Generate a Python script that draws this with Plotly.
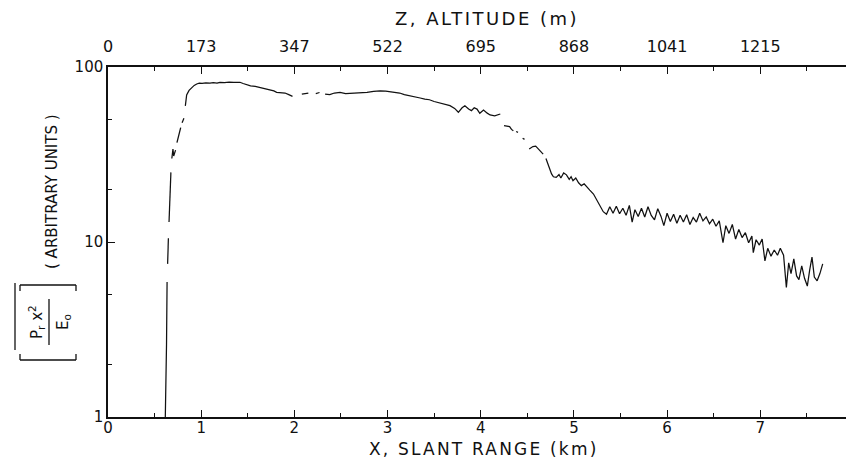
import plotly.graph_objects as go

# Lidar return profile: range-corrected signal vs. slant range
slant_km = [
    0.615, 0.622, 0.628, 0.634, None, 0.640, 0.648, None, 0.655, 0.665, 0.675, None,
    0.685, 0.697, 0.705, 0.715, 0.725, None, 0.740, 0.760, 0.780, None, 0.795, 0.815, None,
    0.830, 0.844, 0.870, 0.898, 0.925, 0.952, 0.980, 1.010, 1.050, 1.094, 1.130, 1.170,
    1.202, 1.250, 1.300, 1.350, 1.416, 1.450, 1.488, 1.530, 1.580, 1.631, 1.680, 1.738,
    1.780, 1.810, 1.850, 1.900, 1.940, 1.980, None, 2.080, 2.150, None, 2.230, 2.270, None,
    2.330, 2.380, 2.430, 2.490, 2.550, 2.630, 2.700, 2.780, 2.850, 2.920, 2.980, 3.030,
    3.080, 3.130, 3.180, 3.240, 3.300, 3.350, 3.400, 3.450, 3.500, 3.560, 3.620, 3.670,
    3.720, 3.760, 3.800, 3.830, 3.870, 3.900, 3.930, 3.960, 3.990, 4.030, 4.070, 4.100,
    4.150, 4.210, None, 4.250, 4.310, 4.330, 4.350, None, 4.380, 4.400, None, 4.450, 4.470,
    None, 4.520, 4.560, 4.590, 4.620, 4.670, None, 4.700, 4.730, 4.760, 4.780, 4.810,
    4.840, 4.860, 4.890, 4.920, 4.950, 4.970, 4.990, 5.020, 5.050, 5.080, 5.110, 5.140,
    5.170, 5.210, 5.240, 5.280, 5.315, 5.350, 5.385, 5.420, 5.455, 5.490, 5.525, 5.560,
    5.595, 5.625, 5.655, 5.690, 5.725, 5.760, 5.795, 5.830, 5.865, 5.900, 5.935, 5.965,
    6.000, 6.035, 6.070, 6.105, 6.140, 6.175, 6.210, 6.245, 6.280, 6.315, 6.350, 6.385,
    6.420, 6.455, 6.490, 6.525, 6.560, 6.600, 6.630, 6.665, 6.700, 6.735, 6.770, 6.805,
    6.840, 6.875, 6.910, 6.925, 6.955, 6.990, 7.020, 7.050, 7.080, 7.115, 7.150, 7.185,
    7.215, 7.250, 7.280, 7.305, 7.330, 7.360, 7.390, 7.415, 7.445, 7.475, 7.505, 7.530,
    7.555, 7.580, 7.610, 7.640, 7.670,
]
signal = [
    1.0, 1.5, 2.6, 5.9, None, 7.5, 10.5, None, 13.0, 18.0, 25.0, None,
    30.0, 34.0, 31.0, 32.5, 33.5, None, 37.0, 41.0, 45.0, None, 48.0, 51.0, None,
    60.0, 69.2, 73.5, 76.5, 78.5, 80.0, 80.8, 80.5, 81.2, 81.0, 81.5, 81.0,
    81.8, 81.5, 82.0, 81.6, 81.8, 80.5, 79.2, 78.0, 77.5, 76.5, 75.0, 74.2,
    73.0, 71.7, 71.5, 71.0, 69.5, 68.0, None, 70.0, 71.0, None, 70.5, 71.5, None,
    70.0, 69.5, 71.0, 71.7, 70.5, 70.8, 71.5, 71.7, 72.5, 73.0, 72.7, 72.3,
    71.5, 71.0, 69.5, 68.6, 67.5, 66.5, 65.5, 65.0, 63.5, 62.2, 61.0, 60.1,
    58.0, 55.1, 58.5, 60.1, 57.5, 56.3, 58.5, 57.5, 54.4, 56.8, 54.5, 53.2,
    52.6, 53.9, None, 46.2, 45.6, 44.0, 43.2, None, 42.8, 42.3, None, 39.2, 38.6,
    None, 34.0, 35.1, 35.3, 34.0, 31.8, None, 30.0, 27.0, 24.5, 23.6, 23.4,
    24.3, 23.2, 24.8, 24.2, 22.8, 23.6, 22.4, 23.2, 21.8, 21.0, 21.5, 20.5,
    19.8, 18.8, 17.5, 16.1, 14.9, 14.4, 15.9, 14.6, 16.0, 14.5, 15.6, 14.2,
    16.2, 13.0, 15.3, 14.0, 15.6, 13.9, 15.9, 14.2, 13.4, 15.5, 14.0, 12.4,
    14.6, 13.1, 14.4, 12.8, 14.2, 13.0, 14.3, 12.6, 13.8, 13.0, 14.6, 13.2,
    13.9, 12.7, 13.5, 12.3, 13.2, 9.9, 12.4, 11.2, 12.6, 10.4, 11.8, 10.6,
    11.3, 9.9, 10.8, 8.7, 10.3, 9.6, 10.4, 7.8, 9.2, 8.3, 9.0, 8.4,
    9.2, 8.4, 5.5, 7.6, 6.6, 8.0, 6.4, 6.1, 7.3, 6.2, 5.6, 6.9,
    8.2, 6.3, 6.0, 6.6, 7.5,
]

range_ticks = [0, 1, 2, 3, 4, 5, 6, 7]
range_tick_labels = ["0", "1", "2", "3", "4", "5", "6", "7"]
altitude_tick_labels = ["0", "173", "347", "522", "695", "868", "1041", "1215"]
half_km_ticks = [0.5, 1.5, 2.5, 3.5, 4.5, 5.5, 6.5, 7.5]
y_ticks = [1, 10, 100]
y_tick_labels = ["1", "10", "100"]
y_minor_ticks = [2, 5, 20, 50]

W, H = 846, 458
ML, MR, MT, MB = 108, 0, 67, 41
PW, PH = W - ML - MR, H - MT - MB
FONT = "DejaVu Sans"
INK = "#111111"


def fx(px):
    return (px - ML) / PW


def fy(py):
    return (MT + PH - py) / PH


def spaced(text, px):
    return f'<span style="letter-spacing:{px}px">{text}</span>'


fig = go.Figure()
fig.add_trace(go.Scatter(
    x=slant_km, y=signal, mode="lines", connectgaps=False,
    line=dict(color=INK, width=1.25), showlegend=False, hoverinfo="skip",
))
# empty trace so the altitude axis along the top is drawn
fig.add_trace(go.Scatter(x=[None], y=[None], xaxis="x2", yaxis="y",
                         mode="lines", showlegend=False, hoverinfo="skip"))

axis_common = dict(
    range=[0, 7.92], showline=True, linecolor=INK, linewidth=1.5,
    ticks="inside", ticklen=7, tickwidth=1.3, tickcolor=INK,
    tickvals=range_ticks, showgrid=False, zeroline=False,
    minor=dict(tickvals=half_km_ticks, ticks="inside", ticklen=4,
               tickwidth=1, tickcolor=INK, showgrid=False),
)

fig.update_layout(
    width=W, height=H, autosize=False,
    margin=dict(l=ML, r=MR, t=MT, b=MB, pad=0),
    paper_bgcolor="white", plot_bgcolor="white",
    font=dict(family=FONT, color=INK),
    xaxis=dict(**axis_common, ticktext=range_tick_labels, side="bottom",
               ticklabelstandoff=-4,
               tickfont=dict(family=FONT, size=15, color=INK)),
    xaxis2=dict(**axis_common, ticktext=altitude_tick_labels, side="top",
                overlaying="x", anchor="y", matches="x", ticklabelstandoff=7,
                tickfont=dict(family=FONT, size=16, color=INK)),
    yaxis=dict(
        type="log", range=[0, 2], showline=True, linecolor=INK, linewidth=1.5,
        ticks="inside", ticklen=7, tickwidth=1.3, tickcolor=INK,
        tickvals=y_ticks, ticktext=y_tick_labels, showgrid=False, zeroline=False,
        tickfont=dict(family=FONT, size=15, color=INK),
        minor=dict(tickvals=y_minor_ticks, ticks="inside", ticklen=4,
                   tickwidth=1, tickcolor=INK, showgrid=False),
    ),
)

title_font = dict(family=FONT, size=17, color=INK)
label_font = dict(family=FONT, size=15, color=INK)
annotations = [
    dict(text=spaced("Z, ALTITUDE (m)", 2.5), x=fx(487), y=fy(19),
         font=dict(family=FONT, size=18, color=INK)),
    dict(text=spaced("X, SLANT RANGE (km)", 2.2), x=fx(484), y=fy(449)),
    dict(text="( ARBITRARY UNITS )", x=fx(52), y=fy(192), textangle=-90,
         font=label_font),
    dict(text="P<sub>r</sub> x<sup>2</sup>", x=fx(36), y=fy(322), textangle=-90,
         font=label_font),
    dict(text="E<sub>o</sub>", x=fx(63), y=fy(322), textangle=-90,
         font=label_font),
]
for a in annotations:
    a.setdefault("font", title_font)
    a.update(xref="paper", yref="paper", showarrow=False,
             xanchor="center", yanchor="middle")
fig.update_layout(annotations=annotations)


def seg(x0, y0, x1, y1, w=1.3):
    return dict(type="line", xref="paper", yref="paper",
                x0=fx(x0), y0=fy(y0), x1=fx(x1), y1=fy(y1),
                line=dict(color=INK, width=w))


# bracket, fraction bar and mean bar of the rotated y label
fig.update_layout(shapes=[
    seg(49, 299, 49, 345),           # fraction bar
    seg(20, 285, 76, 285),           # upper bracket spine
    seg(20, 285, 20, 291), seg(76, 285, 76, 291),
    seg(20, 360, 76, 360),           # lower bracket spine
    seg(20, 360, 20, 354), seg(76, 360, 76, 354),
    seg(15, 283, 15, 350),           # mean bar
])

fig.write_html("out.html")
